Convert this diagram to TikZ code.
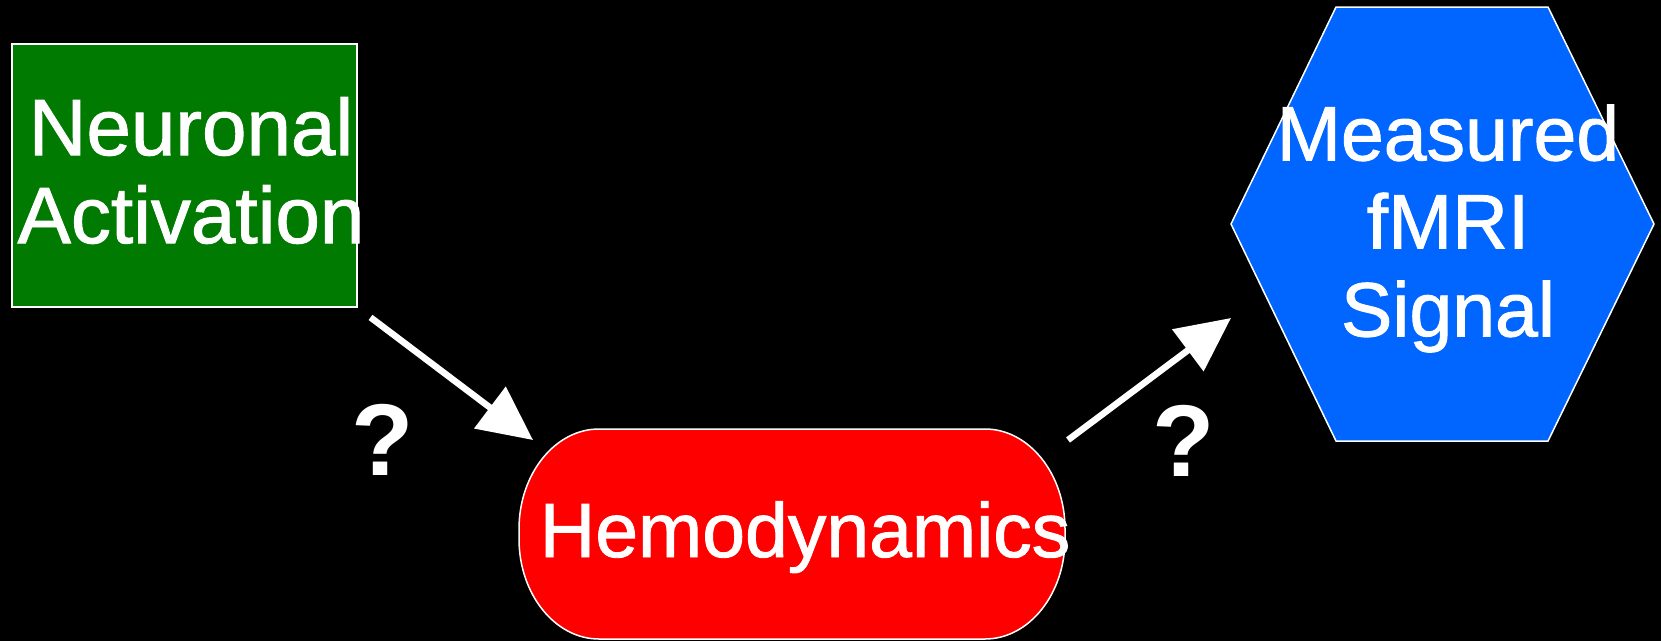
\documentclass[tikz,border=0pt]{standalone}
\usepackage{fontspec}
\setmainfont{Liberation Sans}
\newfontfamily\medfont[FakeBold=1.2]{Liberation Sans}
\usetikzlibrary{arrows.meta}
\definecolor{nGreen}{RGB}{0,122,0}
\definecolor{hRed}{RGB}{255,0,0}
\definecolor{fBlue}{RGB}{0,102,255}
\tikzset{
  boxline/.style={draw=white, line width=1.5pt},
  lbl/.style={text=white, inner sep=0pt, align=center, font=\medfont\fontsize{77}{88}\selectfont},
  qmark/.style={text=white, inner sep=0pt, font=\bfseries\fontsize{102}{110}\selectfont},
  arr/.style={draw=white, line width=6.5pt, -{Triangle[length=54pt,width=51pt]}},
}
\begin{document}
\begin{tikzpicture}[x=1pt,y=-1pt]
\fill[black] (0,0) rectangle (1661,641);
\useasboundingbox (0,0) rectangle (1661,641);
% green box
\node[boxline, fill=nGreen, minimum width=345pt, minimum height=263pt, inner sep=0pt] (neur) at (184.5,175.5) {};
\node[lbl, font=\medfont\fontsize{80}{88}\selectfont] (neurtxt) at (191,170.5) {Neuronal\\Activation};
% red rounded box
\path[boxline, fill=hRed] (599,429) -- (985,429) .. controls (1029,429) and (1065,474) .. (1065,529) -- (1065,539) .. controls (1065,594) and (1029,639) .. (985,639) -- (599,639) .. controls (555,639) and (519,594) .. (519,539) -- (519,529) .. controls (519,474) and (555,429) .. (599,429) -- cycle;
\node[lbl, anchor=base] (hemo) at (805,557) {Hemodynamics};
% blue hexagon
\path[boxline, fill=fBlue] (1231,224) -- (1336,7) -- (1548,7) -- (1654,224) -- (1548,441) -- (1336,441) -- cycle;
\node[lbl] (fmri) at (1448,228.5) {Measured\\fMRI\\Signal};
% connectors
\coordinate (hemoNW) at (533,440);
\coordinate (hemoNE) at (1068,440);
\coordinate (fmriW) at (1231,318);
\draw[arr, shorten <=16pt] (neur.south east) -- (hemoNW);
\draw[arr] (hemoNE) -- (fmriW);
% question marks
\node[qmark] (q1) at (383,440) {?};
\node[qmark] (q2) at (1184,441) {?};
\end{tikzpicture}
\end{document}
